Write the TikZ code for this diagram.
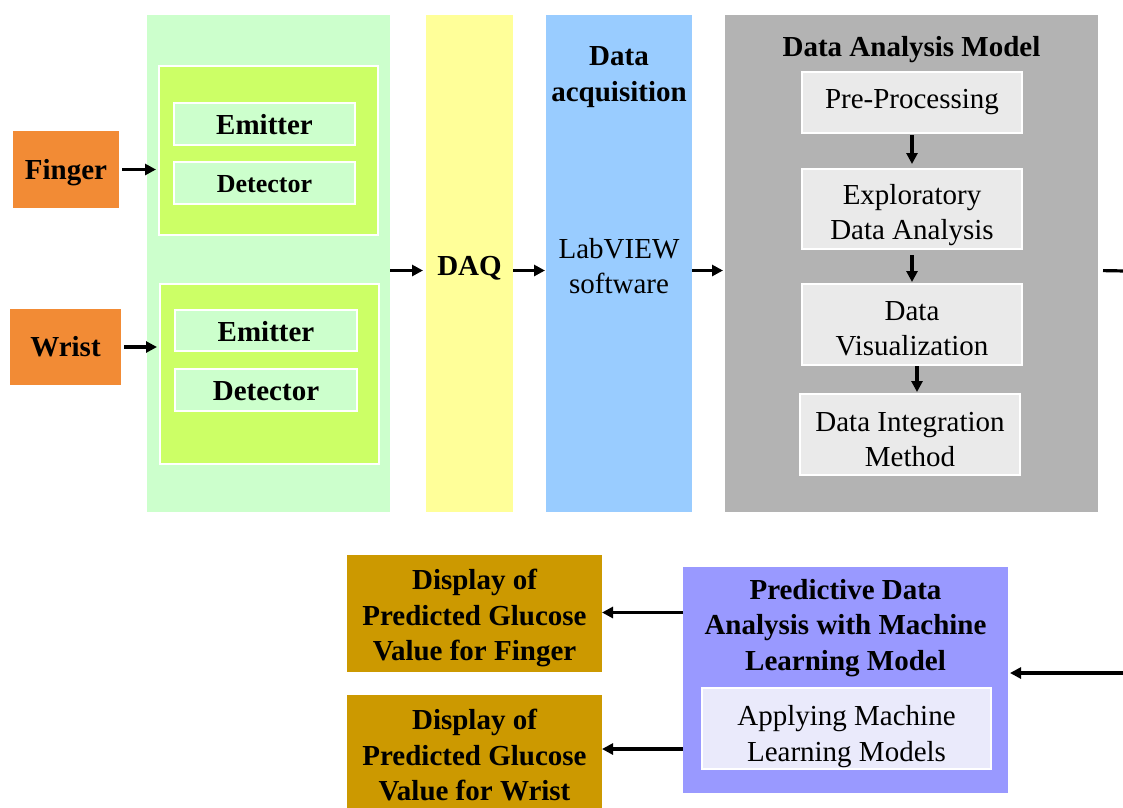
\documentclass[tikz,border=0pt]{standalone}
\usepackage{fontspec}
\setmainfont{Liberation Serif}
\usetikzlibrary{arrows.meta}

\definecolor{cOrange}{RGB}{242,139,53}
\definecolor{cMint}{RGB}{204,255,204}
\definecolor{cLime}{RGB}{204,255,102}
\definecolor{cYellow}{RGB}{255,255,153}
\definecolor{cSky}{RGB}{153,204,255}
\definecolor{cGrey}{RGB}{179,179,179}
\definecolor{cPale}{RGB}{234,234,234}
\definecolor{cViolet}{RGB}{153,153,255}
\definecolor{cLavender}{RGB}{234,234,251}
\definecolor{cGold}{RGB}{204,153,0}

\tikzset{
  bigtxt/.style={font=\fontsize{29}{35.5}\selectfont\bfseries, align=center},
  plaintxt/.style={font=\fontsize{29}{35.5}\selectfont, align=center},
  panel/.style={rectangle, inner sep=0pt, outer sep=0pt, draw=none},
  framed/.style={rectangle, inner sep=0pt, outer sep=0pt, draw=white, line width=2.5pt},
  arr/.style={line width=3.2pt, -{Triangle[length=11pt,width=11pt]}},
}

\begin{document}
\begin{tikzpicture}[x=1pt, y=-1pt]
\useasboundingbox (0,0) rectangle (1123,807);
\clip (0,0) rectangle (1123,807);
\fill[white] (0,0) rectangle (1123,807);

% sources
\node[panel, fill=cOrange, minimum width=106pt, minimum height=77pt,
      label={[bigtxt, yshift=-3pt]center:Finger}] (finger) at (66,169.5) {};
\node[panel, fill=cOrange, minimum width=111pt, minimum height=76pt, bigtxt] (wrist) at (65.5,347) {Wrist};

% sensor panel
\node[panel, fill=cMint, minimum width=243pt, minimum height=497pt] (sensor) at (268.5,263.5) {};
\node[framed, fill=cLime, minimum width=219pt, minimum height=169pt] (grpA) at (268.5,150.5) {};
\node[framed, fill=cMint, minimum width=181pt, minimum height=42pt,
      label={[bigtxt, yshift=-1pt]center:Emitter}] (emA) at (264.5,124) {};
\node[framed, fill=cMint, minimum width=181pt, minimum height=42pt,
      label={[font=\fontsize{26}{31}\selectfont\bfseries, yshift=-1pt]center:Detector}] (deA) at (264.5,183) {};
\node[framed, fill=cLime, minimum width=219pt, minimum height=180pt] (grpB) at (269.5,374) {};
\node[framed, fill=cMint, minimum width=182pt, minimum height=41pt,
      label={[bigtxt, yshift=-1.5pt]center:Emitter}] (emB) at (266,330.5) {};
\node[framed, fill=cMint, minimum width=182pt, minimum height=42pt,
      label={[bigtxt, yshift=-1pt]center:Detector}] (deB) at (266,390) {};

% DAQ
\node[panel, fill=cYellow, minimum width=87pt, minimum height=497pt] (daq) at (469.5,263.5) {};
\node[bigtxt] (daqtxt) at (469.5,268) {DAQ};

% acquisition
\node[panel, fill=cSky, minimum width=146pt, minimum height=497pt] (acq) at (619,263.5) {};
\node[bigtxt] (acqtitle) at (619,77) {Data\\acquisition};
\node[plaintxt] (labview) at (619,266) {LabVIEW\\software};

% data analysis model
\node[panel, fill=cGrey, minimum width=373pt, minimum height=497pt] (dam) at (911.5,263.5) {};
\node[bigtxt] (damtitle) at (911.5,50) {Data Analysis Model};
\node[framed, fill=cPale, minimum width=220pt, minimum height=61pt,
      label={[plaintxt]center:Pre-Processing}] (pre) at (912,102.5) {};
\node[framed, fill=cPale, minimum width=220pt, minimum height=80pt,
      label={[plaintxt, yshift=-6pt]center:{Exploratory\\Data Analysis}}] (eda) at (912,209) {};
\node[framed, fill=cPale, minimum width=220pt, minimum height=81pt,
      label={[plaintxt, yshift=-4pt]center:{Data\\Visualization}}] (vis) at (912,324.5) {};
\node[framed, fill=cPale, minimum width=220pt, minimum height=81pt,
      label={[plaintxt, yshift=-5pt]center:{Data Integration\\Method}}] (dim) at (910,434.5) {};

% predictive model
\node[panel, fill=cViolet, minimum width=325pt, minimum height=226pt] (pred) at (845.5,680) {};
\node[bigtxt] (predtitle) at (845.5,628) {Predictive Data\\Analysis with Machine\\Learning Model};
\node[framed, fill=cLavender, minimum width=289pt, minimum height=81pt,
      label={[plaintxt, yshift=-8pt]center:{Applying Machine\\Learning Models}}] (apply) at (846.5,728.5) {};

% displays
\node[panel, fill=cGold, minimum width=255pt, minimum height=117pt,
      label={[bigtxt, yshift=-4.5pt]center:{Display of\\Predicted Glucose\\Value for Finger}}] (dispF) at (474.5,613.5) {};
\node[panel, fill=cGold, minimum width=255pt, minimum height=116pt,
      label={[bigtxt, yshift=-2pt]center:{Display of\\Predicted Glucose\\Value for Wrist}}] (dispW) at (474.5,753) {};

% free ends at the right border
\coordinate (outR) at (1126,271);
\coordinate (inR) at (1126,673);

% connectors
\draw[arr, shorten <=3pt, shorten >=3pt] (finger.east) -- (finger.east -| grpA.west);
\draw[arr, shorten <=3pt, shorten >=3pt] (wrist.east) -- (wrist.east -| grpB.west);
\draw[arr, shorten >=3pt] ([yshift=-7pt]sensor.east) -- ([yshift=-7pt]daq.west);
\draw[arr, shorten >=1pt] ([yshift=-7pt]daq.east) -- ([yshift=-7pt]acq.west);
\draw[arr, shorten >=2pt] ([yshift=-7pt]acq.east) -- ([yshift=-7pt]dam.west);
\draw[line width=3.2pt, shorten <=5pt] ([yshift=-7pt]dam.east) -- (outR);
\draw[arr, shorten >=2pt] (inR) -- (inR -| pred.east);
\draw[arr] ([yshift=1pt]pred.west |- dispF.east) -- ([yshift=1pt]dispF.east);
\draw[arr] ([yshift=4pt]pred.west |- dispW.east) -- ([yshift=4pt]dispW.east);

\draw[arr, shorten <=2pt, shorten >=5pt] (pre.south) -- (pre.south |- eda.north);
\draw[arr, shorten <=6pt, shorten >=2pt] (eda.south) -- (eda.south |- vis.north);
\draw[arr, shorten <=1pt, shorten >=2pt] ([xshift=5pt]vis.south) -- ([xshift=5pt]vis.south |- dim.north);
\end{tikzpicture}
\end{document}
